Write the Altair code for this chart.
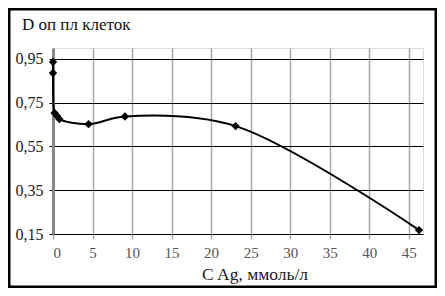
import altair as alt
import pandas as pd

conc = [0, 0, 0.2, 0.5, 0.8, 4.5, 9.1, 23.1, 46.3]
dens = [0.936, 0.886, 0.703, 0.69, 0.675, 0.652, 0.687, 0.643, 0.168]
x_ticks = [0, 5, 10, 15, 20, 25, 30, 35, 40, 45]
y_ticks = [0.15, 0.35, 0.55, 0.75, 0.95]

df = pd.DataFrame({"c": conc, "d": dens, "i": list(range(len(conc)))})

FONT = "Liberation Serif"

xs = alt.X("c:Q", scale=alt.Scale(domain=[0, 46.8], nice=False, zero=False),
           axis=alt.Axis(values=x_ticks, title=None, grid=True, gridColor="#a8a8a8",
                         gridWidth=1.5, tickColor="#a8a8a8", tickWidth=1.5, tickSize=5,
                         domain=False, labelFont=FONT, labelFontSize=15,
                         labelColor="#555", labelPadding=6))
ys = alt.Y("d:Q", scale=alt.Scale(domain=[0.15, 1.0], nice=False, zero=False),
           axis=alt.Axis(values=y_ticks, title=None, grid=True, gridColor="black",
                         gridWidth=1, tickColor="black", tickSize=4,
                         domainColor="#888", domainWidth=3,
                         labelFont=FONT, labelFontSize=16, labelColor="#222",
                         labelPadding=6,
                         labelExpr="replace(format(datum.value, '.2f'), '.', ',')"))

base = alt.Chart(df)
line = base.mark_line(color="black", strokeWidth=2, interpolate="catmull-rom").encode(
    x=xs, y=ys, order="i:Q")
pts = base.mark_point(shape="diamond", filled=True, color="black", size=70, opacity=1).encode(
    x="c:Q", y="d:Q")

ttl = alt.Chart(pd.DataFrame({"t": ["D оп пл клеток"]})).mark_text(
    font=FONT, fontSize=17, align="left", baseline="middle", color="#111").encode(
    text="t:N", x=alt.value(-31), y=alt.value(-23))
xt = alt.Chart(pd.DataFrame({"t": ["C Ag, ммоль/л"]})).mark_text(
    font=FONT, fontSize=17.5, align="center", baseline="middle", color="#222").encode(
    text="t:N", x=alt.value(202), y=alt.value(227))
frame = alt.Chart(pd.DataFrame({"a": [1]})).mark_rect(
    fill=None, stroke="black", strokeWidth=3).encode(
    x=alt.value(-44), x2=alt.value(383), y=alt.value(-39), y2=alt.value(239))

chart = alt.layer(line, pts, ttl, xt, frame).properties(
    width=370, height=186,
    autosize=alt.AutoSizeParams(type="none"),
    padding={"left": 45, "top": 40, "right": 14, "bottom": 54},
).configure_view(stroke="black", strokeWidth=1).configure(background="white")

chart.save("out.html", embed_options={"renderer": "svg", "actions": False})
